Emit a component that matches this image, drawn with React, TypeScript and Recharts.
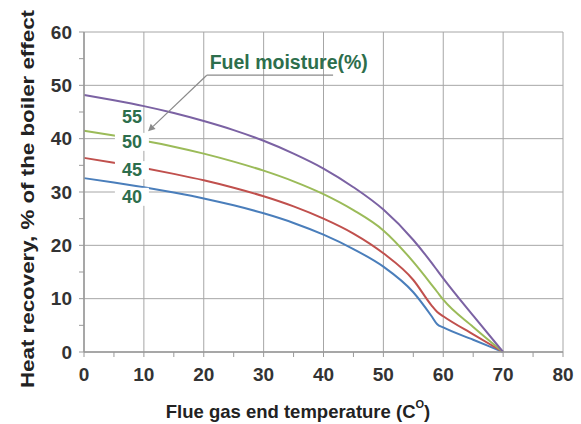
import React from 'react';
import { LineChart, Line, XAxis, YAxis, CartesianGrid, ReferenceDot, ReferenceLine, Label } from 'recharts';

// Flue gas end temperature (°C)
const temperatures = [0, 5, 10, 15, 20, 25, 30, 35, 40, 45, 50, 55, 58, 59, 60, 65, 70];
// Heat recovery (% of boiler effect) for each fuel moisture level
const moisture55 = [48.2, 47.2, 46.1, 44.8, 43.3, 41.6, 39.6, 37.2, 34.4, 30.9, 26.7, 21.0, 16.8, 15.3, 13.8, 6.8, 0];
const moisture50 = [41.5, 40.6, 39.6, 38.5, 37.2, 35.7, 34.0, 32.0, 29.6, 26.6, 22.8, 16.9, 12.7, 11.25, 9.8, 4.7, 0];
const moisture45 = [36.4, 35.5, 34.5, 33.4, 32.2, 30.8, 29.2, 27.3, 25.0, 22.2, 18.5, 13.5, 8.8, 7.5, 6.7, 3.3, 0];
const moisture40 = [32.6, 31.8, 30.9, 29.9, 28.8, 27.5, 26.0, 24.2, 22.0, 19.3, 16.0, 11.2, 6.8, 5.2, 4.6, 2.3, 0];

const xTicks = [0, 5, 10, 15, 20, 25, 30, 35, 40, 45, 50, 55, 60, 65, 70, 75, 80];
const yTicks = [0, 5, 10, 15, 20, 25, 30, 35, 40, 45, 50, 55, 60];
const xGrid = [0, 10, 20, 30, 40, 50, 60, 70, 80];
const yGrid = [0, 10, 20, 30, 40, 50, 60];
const X_MAX = 80;
const Y_MAX = 60;

const seriesLabels = [
  { text: '55', x: 8, y: 44.1, bg: false },
  { text: '50', x: 8, y: 39.4, bg: true },
  { text: '45', x: 8, y: 34.1, bg: true },
  { text: '40', x: 8, y: 29.1, bg: true },
];

const rows = temperatures.map((t, i) => ({
  t,
  m55: moisture55[i],
  m50: moisture50[i],
  m45: moisture45[i],
  m40: moisture40[i],
}));

const FONT = '"Liberation Sans", Arial, Helvetica, sans-serif';
const GRID = '#a6a6a6';
const LABEL_GREEN = '#2d6e4c';

const tickStyle = { fontSize: 19, fontWeight: 'bold', fill: '#333', fontFamily: FONT } as any;

const fmt = (v: number) => (v % 10 === 0 ? String(v) : '');

const scaleOf = (axis: any) => {
  if (!axis) return null;
  if (typeof axis.scale === 'function') return axis.scale;
  if (axis.scale && typeof axis.scale.map === 'function') return (v: number) => axis.scale.map(v);
  return null;
};

const SeriesTag = (props: any) => {
  const { cx, cy, text, bg } = props;
  return (
    <g>
      {bg && <rect x={cx - 17} y={cy - 9} width={34} height={18} fill="#fff" />}
      <text
        x={cx}
        y={cy}
        textAnchor="middle"
        dominantBaseline="central"
        fontSize={18}
        fontWeight="bold"
        fill={LABEL_GREEN}
        fontFamily={FONT}
      >
        {text}
      </text>
    </g>
  );
};

const TitleTag = (props: any) => {
  const { cx, cy } = props;
  return (
    <text
      x={cx}
      y={cy}
      textAnchor="middle"
      dominantBaseline="central"
      fontSize={19.5}
      fontWeight="bold"
      fill={LABEL_GREEN}
      fontFamily={FONT}
    >
      Fuel moisture(%)
    </text>
  );
};

const ArrowLine = (props: any) => {
  const { x1, y1, x2, y2 } = props;
  const ang = Math.atan2(y2 - y1, x2 - x1);
  const len = 7;
  const w = 3.5;
  const bx = x2 - len * Math.cos(ang);
  const by = y2 - len * Math.sin(ang);
  const px = -Math.sin(ang) * w;
  const py = Math.cos(ang) * w;
  return (
    <g>
      <line x1={x1} y1={y1} x2={bx} y2={by} stroke="#8a8a8a" strokeWidth={1.2} />
      <polygon points={`${x2},${y2} ${bx + px},${by + py} ${bx - px},${by - py}`} fill="#8a8a8a" />
    </g>
  );
};

const PlainLine = (props: any) => {
  const { x1, y1, x2, y2 } = props;
  return <line x1={x1} y1={y1} x2={x2} y2={y2} stroke="#8a8a8a" strokeWidth={1.2} />;
};

export default function App() {
  return (
    <div style={{ position: 'absolute', left: 0, top: 0, width: 581, height: 424, background: '#fff' }}>
      <LineChart
        width={581}
        height={424}
        data={rows}
        margin={{ top: 32, right: 18, left: 0, bottom: 0 }}
      >
        <CartesianGrid
          stroke={GRID}
          strokeWidth={1}
          verticalCoordinatesGenerator={(p: any) => {
            const s = scaleOf(p.xAxis);
            return xGrid.map((v) => (s ? s(v) : p.offset.left + (p.offset.width * v) / X_MAX));
          }}
          horizontalCoordinatesGenerator={(p: any) => {
            const s = scaleOf(p.yAxis);
            return yGrid.map((v) => (s ? s(v) : p.offset.top + p.offset.height * (1 - v / Y_MAX)));
          }}
        />
        <XAxis
          dataKey="t"
          type="number"
          domain={[0, X_MAX]}
          ticks={xTicks}
          interval={0}
          tickFormatter={fmt}
          height={72}
          tickSize={5}
          tickMargin={11}
          tick={tickStyle}
          axisLine={{ stroke: '#999', strokeWidth: 1.5 }}
          tickLine={{ stroke: '#999' }}
        >
          <Label
            content={() => (
              <text
                x={298}
                y={411}
                textAnchor="middle"
                dominantBaseline="central"
                fontSize={18.5}
                fontWeight="bold"
                fill="#222"
                fontFamily={FONT}
              >
                Flue gas end temperature (C
                <tspan dy={-7} fontSize={11}>O</tspan>
                <tspan dy={7}>)</tspan>
              </text>
            )}
          />
        </XAxis>
        <YAxis
          type="number"
          domain={[0, Y_MAX]}
          ticks={yTicks}
          interval={0}
          tickFormatter={fmt}
          width={84}
          tickSize={5}
          tickMargin={7}
          tick={tickStyle}
          axisLine={{ stroke: '#999', strokeWidth: 1.5 }}
          tickLine={{ stroke: '#999' }}
        >
          <Label
            content={() => (
              <text
                x={27}
                y={199}
                transform="rotate(-90, 27, 199)"
                textAnchor="middle"
                dominantBaseline="central"
                fontSize={19}
                fontWeight="bold"
                fill="#222"
                fontFamily={FONT}
                textLength={378}
                lengthAdjust="spacingAndGlyphs"
              >
                Heat recovery, % of the boiler effect
              </text>
            )}
          />
        </YAxis>
        <Line type="monotone" dataKey="m40" stroke="#4a7ebb" strokeWidth={2} dot={false} isAnimationActive={false} />
        <Line type="monotone" dataKey="m45" stroke="#c0504d" strokeWidth={2} dot={false} isAnimationActive={false} />
        <Line type="monotone" dataKey="m50" stroke="#9bbb59" strokeWidth={2} dot={false} isAnimationActive={false} />
        <Line type="monotone" dataKey="m55" stroke="#7b62a3" strokeWidth={2} dot={false} isAnimationActive={false} />
        {seriesLabels.map((l) => (
          <ReferenceDot
            key={l.text}
            x={l.x}
            y={l.y}
            r={1}
            shape={(p: any) => <SeriesTag {...p} text={l.text} bg={l.bg} />}
          />
        ))}
        <ReferenceLine
          segment={[{ x: 41.6, y: 51.9 }, { x: 20.5, y: 51.9 }]}
          shape={(p: any) => <PlainLine {...p} />}
        />
        <ReferenceLine
          segment={[{ x: 20.5, y: 51.9 }, { x: 10.7, y: 41.4 }]}
          shape={(p: any) => <ArrowLine {...p} />}
        />
        <ReferenceDot x={34.2} y={54.4} r={1} shape={(p: any) => <TitleTag {...p} />} />
      </LineChart>
    </div>
  );
}
